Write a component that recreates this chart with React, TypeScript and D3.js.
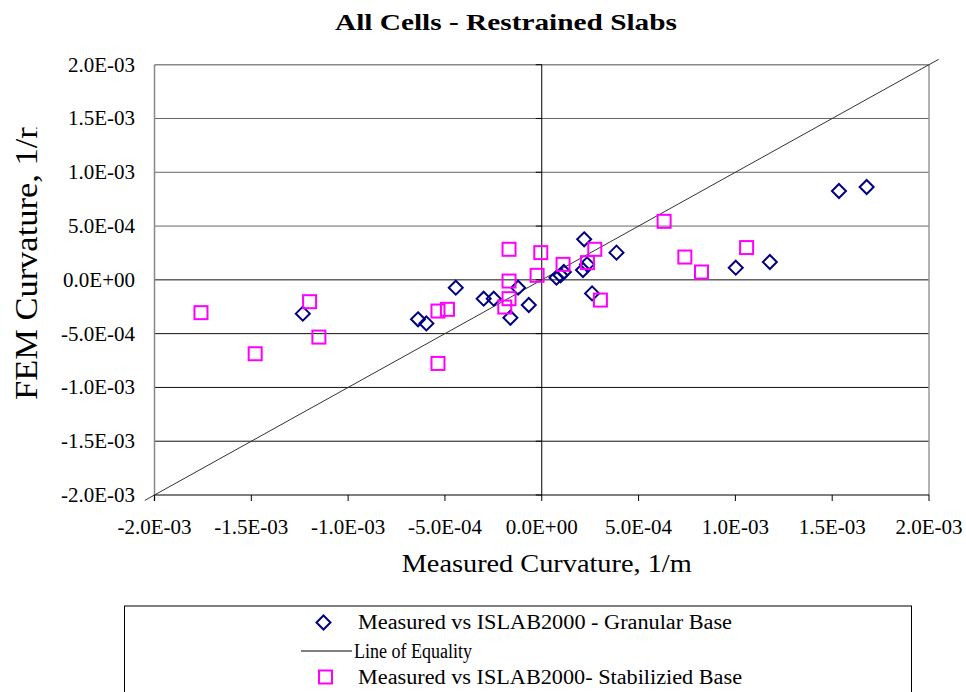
import React from "react";
import * as d3 from "d3";

// Measured vs ISLAB2000 - Granular Base (1/m)
const granularX = [-1.234e-3, -0.639e-3, -0.596e-3, -0.444e-3, -0.300e-3, -0.248e-3, -0.122e-3, -0.162e-3, -0.067e-3, 0.076e-3, 0.097e-3, 0.114e-3, 0.219e-3, 0.213e-3, 0.234e-3, 0.260e-3, 0.386e-3, 1.002e-3, 1.178e-3, 1.535e-3, 1.678e-3];
const granularY = [-0.314e-3, -0.367e-3, -0.405e-3, -0.073e-3, -0.175e-3, -0.175e-3, -0.073e-3, -0.352e-3, -0.234e-3, 0.020e-3, 0.042e-3, 0.073e-3, 0.377e-3, 0.091e-3, 0.144e-3, -0.126e-3, 0.253e-3, 0.113e-3, 0.166e-3, 0.826e-3, 0.863e-3];

// Measured vs ISLAB2000 - Stabilizied Base (1/m)
const stabX = [-1.760e-3, -1.480e-3, -1.199e-3, -1.151e-3, -0.536e-3, -0.487e-3, -0.536e-3, -0.169e-3, -0.169e-3, -0.169e-3, -0.191e-3, -0.005e-3, -0.024e-3, 0.110e-3, 0.274e-3, 0.236e-3, 0.303e-3, 0.632e-3, 0.739e-3, 0.825e-3, 1.058e-3];
const stabY = [-0.305e-3, -0.687e-3, -0.203e-3, -0.532e-3, -0.290e-3, -0.274e-3, -0.777e-3, 0.284e-3, -0.011e-3, -0.175e-3, -0.253e-3, 0.253e-3, 0.042e-3, 0.144e-3, 0.284e-3, 0.160e-3, -0.188e-3, 0.544e-3, 0.212e-3, 0.073e-3, 0.300e-3];

// Line of equality
const equalityLine = [-2.05e-3, 2.05e-3];

const tickValues = [-2e-3, -1.5e-3, -1e-3, -5e-4, 0, 5e-4, 1e-3, 1.5e-3, 2e-3];
const tickLabels = ["-2.0E-03", "-1.5E-03", "-1.0E-03", "-5.0E-04", "0.0E+00", "5.0E-04", "1.0E-03", "1.5E-03", "2.0E-03"];

const title = "All Cells - Restrained  Slabs";
const xTitle = "Measured Curvature, 1/m";
const yTitle = "FEM Curvature, 1/m";
const legendLabels = ["Measured vs ISLAB2000 - Granular Base", "Line of Equality", "Measured vs ISLAB2000- Stabilizied Base"];

const FONT = "'Liberation Serif', 'Times New Roman', serif";

export default function App() {
  const W = 966, H = 692;
  const L = 154.5, R = 929, T = 64.7, B = 495;
  const x = d3.scaleLinear().domain([-2e-3, 2e-3]).range([L, R]);
  const y = d3.scaleLinear().domain([-2e-3, 2e-3]).range([B, T]);
  const x0 = x(0);

  const line = d3.line<number>().x((v) => x(v)).y((v) => y(v));
  const diamond = (cx: number, cy: number, r: number) =>
    `M${cx},${cy - r}L${cx + r},${cy}L${cx},${cy + r}L${cx - r},${cy}Z`;

  const granular = granularX.map((v, i) => [v, granularY[i]]);
  const stab = stabX.map((v, i) => [v, stabY[i]]);

  return (
    <svg width={W} height={H} style={{ position: "absolute", left: 0, top: 0, background: "#fff" }} fontFamily={FONT}>
      <defs>
        <clipPath id="ytclip">
          <rect x={0} y={127.5} width={60} height={400} />
        </clipPath>
      </defs>
      <rect x={0} y={0} width={W} height={H} fill="#fff" />
      {/* title */}
      <text x={506} y={29.5} textAnchor="middle" fontSize={24} fontWeight="bold" textLength={342} lengthAdjust="spacingAndGlyphs">{title}</text>

      {/* gridlines */}
      {tickValues.slice(1, -1).map((v, i) => (
        <line key={"g" + i} x1={L} x2={R} y1={y(v)} y2={y(v)} stroke={v > 0 ? "#666" : "#111"} strokeWidth={1} />
      ))}
      {/* plot border */}
      <line x1={L} x2={R} y1={T} y2={T} stroke="#888" strokeWidth={1.5} />
      <line x1={L} x2={L} y1={T} y2={B + 6} stroke="#888" strokeWidth={1.5} />
      <line x1={R} x2={R} y1={T} y2={B} stroke="#999" strokeWidth={1.5} />

      {/* y zero axis with ticks */}
      <line x1={x0} x2={x0} y1={T} y2={B} stroke="#000" strokeWidth={1} />
      {tickValues.map((v, i) => (
        <line key={"yt" + i} x1={x0 - 6} x2={x0} y1={y(v)} y2={y(v)} stroke="#000" strokeWidth={1} />
      ))}
      {/* x axis bottom */}
      <line x1={L} x2={R} y1={B} y2={B} stroke="#000" strokeWidth={1.2} />
      {tickValues.map((v, i) => (
        <line key={"xt" + i} x1={x(v)} x2={x(v)} y1={B} y2={B + 6} stroke="#000" strokeWidth={1} />
      ))}

      {/* y tick labels */}
      {tickValues.map((v, i) => (
        <text key={"yl" + i} x={135} y={y(v) + 7} textAnchor="end" fontSize={21}>{tickLabels[i]}</text>
      ))}
      {/* x tick labels */}
      {tickValues.map((v, i) => (
        <text key={"xl" + i} x={x(v)} y={534} textAnchor="middle" fontSize={21}>{tickLabels[i]}</text>
      ))}

      {/* axis titles */}
      <text x={546.7} y={572} textAnchor="middle" fontSize={26} textLength={290} lengthAdjust="spacingAndGlyphs">{xTitle}</text>
      <g clipPath="url(#ytclip)">
        <text transform="translate(36.5,400) rotate(-90)" x={0} y={0} textAnchor="start" fontSize={31} textLength={288} lengthAdjust="spacingAndGlyphs">{yTitle}</text>
      </g>

      {/* equality line */}
      <path d={line(equalityLine) || ""} fill="none" stroke="#333" strokeWidth={1} />

      {/* granular */}
      {granular.map((d, i) => (
        <path key={"d" + i} d={diamond(x(d[0]), y(d[1]), 7)} fill="none" stroke="#000080" strokeWidth={2} />
      ))}
      {/* stabilized */}
      {stab.map((d, i) => (
        <rect key={"s" + i} x={x(d[0]) - 6.5} y={y(d[1]) - 6.5} width={13} height={13} fill="none" stroke="#FF00FF" strokeWidth={2} />
      ))}

      {/* legend */}
      <rect x={124.5} y={606} width={787} height={120} fill="#fff" stroke="#000" strokeWidth={1} />
      <path d={diamond(323.5, 622.5, 7)} fill="none" stroke="#000080" strokeWidth={2} />
      <text x={358} y={629} fontSize={20} textLength={374} lengthAdjust="spacingAndGlyphs">{legendLabels[0]}</text>
      <line x1={301} x2={352} y1={651} y2={651} stroke="#000" strokeWidth={1} />
      <text x={354} y={657.5} fontSize={20} textLength={118} lengthAdjust="spacingAndGlyphs">{legendLabels[1]}</text>
      <rect x={319} y={670.5} width={13} height={13} fill="none" stroke="#FF00FF" strokeWidth={2} />
      <text x={358} y={684} fontSize={20} textLength={384} lengthAdjust="spacingAndGlyphs">{legendLabels[2]}</text>
    </svg>
  );
}
